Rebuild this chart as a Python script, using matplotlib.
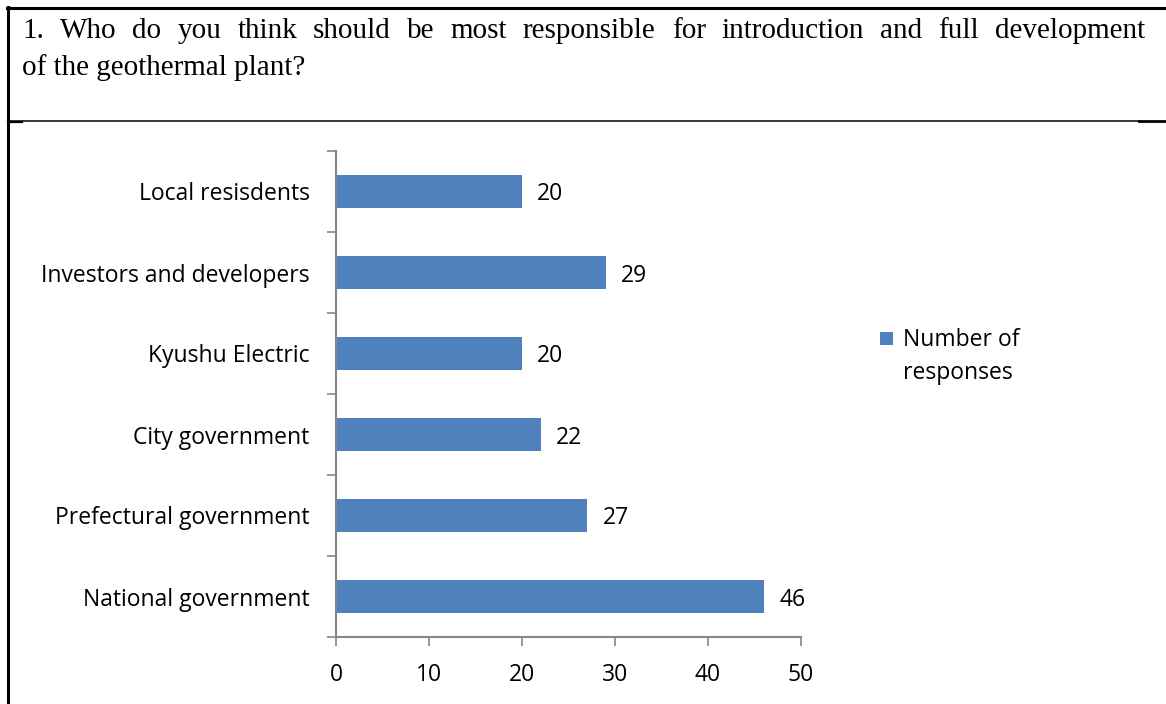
import matplotlib
matplotlib.use('Agg')
import matplotlib.pyplot as plt
from matplotlib.lines import Line2D
from matplotlib.patches import Rectangle

# data (bottom to top)
categories = ['National government', 'Prefectural government', 'City government',
              'Kyushu Electric', 'Investors and developers', 'Local resisdents']
responses = [46, 27, 22, 20, 29, 20]
xticks = [0, 10, 20, 30, 40, 50]
series_name = 'Number of\nresponses'
title_line1 = '1. Who do you think should be most responsible for introduction and full development'
title_line2 = 'of the geothermal plant?'

W, H = 1166, 704
BAR = '#4F81BD'
AXC = '#868686'
LABEL_FONT = 'Open Sans'
FS = 16.5
TITLE_FONT = 'Liberation Serif'

fig = plt.figure(figsize=(W / 100, H / 100), dpi=100)
fig.patch.set_facecolor('white')

def px(x, y):
    return x / W, 1 - y / H

# frame lines of the table cell
def hline(x0, x1, y, lw):
    a, b = px(x0, y)
    c, _ = px(x1, y)
    fig.add_artist(Line2D([a, c], [b, b], color='black', lw=lw, transform=fig.transFigure))

def vline(x, y0, y1, lw):
    a, b = px(x, y0)
    _, d = px(x, y1)
    fig.add_artist(Line2D([a, a], [b, d], color='black', lw=lw, transform=fig.transFigure))

hline(7, W, 8, 2.2)
vline(8, 7, H, 2.2)
hline(8, 1139, 120.7, 1.1)
hline(1139, W, 121.2, 2.0)
hline(8, 22, 121.5, 1.6)

# justified first line of the question
renderer = fig.canvas.get_renderer()
words = title_line1.split(' ')
x_left, x_right = 22, 1145
tsize = 21
widths = []
for w in words:
    t = fig.text(0, 0, w, fontsize=tsize, family=TITLE_FONT)
    bb = t.get_window_extent(renderer)
    widths.append(bb.width)
    t.remove()
gap = (x_right - x_left - sum(widths)) / (len(words) - 1)
xpos = x_left
for w, wd in zip(words, widths):
    fx, fy = px(xpos, 38)
    fig.text(fx, fy, w, fontsize=tsize, family=TITLE_FONT, va='baseline', ha='left')
    xpos += wd + gap
fx, fy = px(x_left, 75)
fig.text(fx, fy, title_line2, fontsize=tsize, family=TITLE_FONT, va='baseline', ha='left')

# chart
ax_l, ax_r, ax_t, ax_b = 336, 801, 151, 637
ax = fig.add_axes([ax_l / W, 1 - ax_b / H, (ax_r - ax_l) / W, (ax_b - ax_t) / H])
ypos = list(range(len(categories)))
ax.barh(ypos, responses, height=0.4, color=BAR, zorder=2)
ax.set_xlim(0, 50)
ax.set_ylim(-0.5, len(categories) - 0.5)

for s in ['top', 'right']:
    ax.spines[s].set_visible(False)
for s in ['left', 'bottom']:
    ax.spines[s].set_color(AXC)
    ax.spines[s].set_linewidth(1.5)

ax.set_xticks(xticks)
ax.set_xticklabels([str(v) for v in xticks], fontsize=FS, family=LABEL_FONT)
ax.tick_params(axis='x', direction='out', length=6.5, width=1.2, color=AXC, pad=12)

ax.set_yticks([i - 0.5 for i in range(len(categories) + 1)])
ax.set_yticklabels([])
ax.set_yticks(ypos, minor=True)
ax.set_yticklabels(categories, minor=True, fontsize=FS, family=LABEL_FONT)
ax.tick_params(axis='y', which='major', direction='out', length=6.5, width=1.2, color=AXC)
ax.tick_params(axis='y', which='minor', length=0, pad=19)

for y, v in zip(ypos, responses):
    ax.annotate(str(v), (v, y), xytext=(11, 0), textcoords='offset points',
                ha='left', va='center_baseline', fontsize=FS, family=LABEL_FONT)

# legend
lx, ly = px(880, 345)
fig.add_artist(Rectangle((lx, ly), 13 / W, 13 / H, facecolor=BAR, edgecolor='none',
                         transform=fig.transFigure))
tx, ty = px(903, 328)
fig.text(tx, ty, series_name, fontsize=FS, family=LABEL_FONT, ha='left', va='top',
         linespacing=1.5)

fig.savefig('out.png', dpi=100)
